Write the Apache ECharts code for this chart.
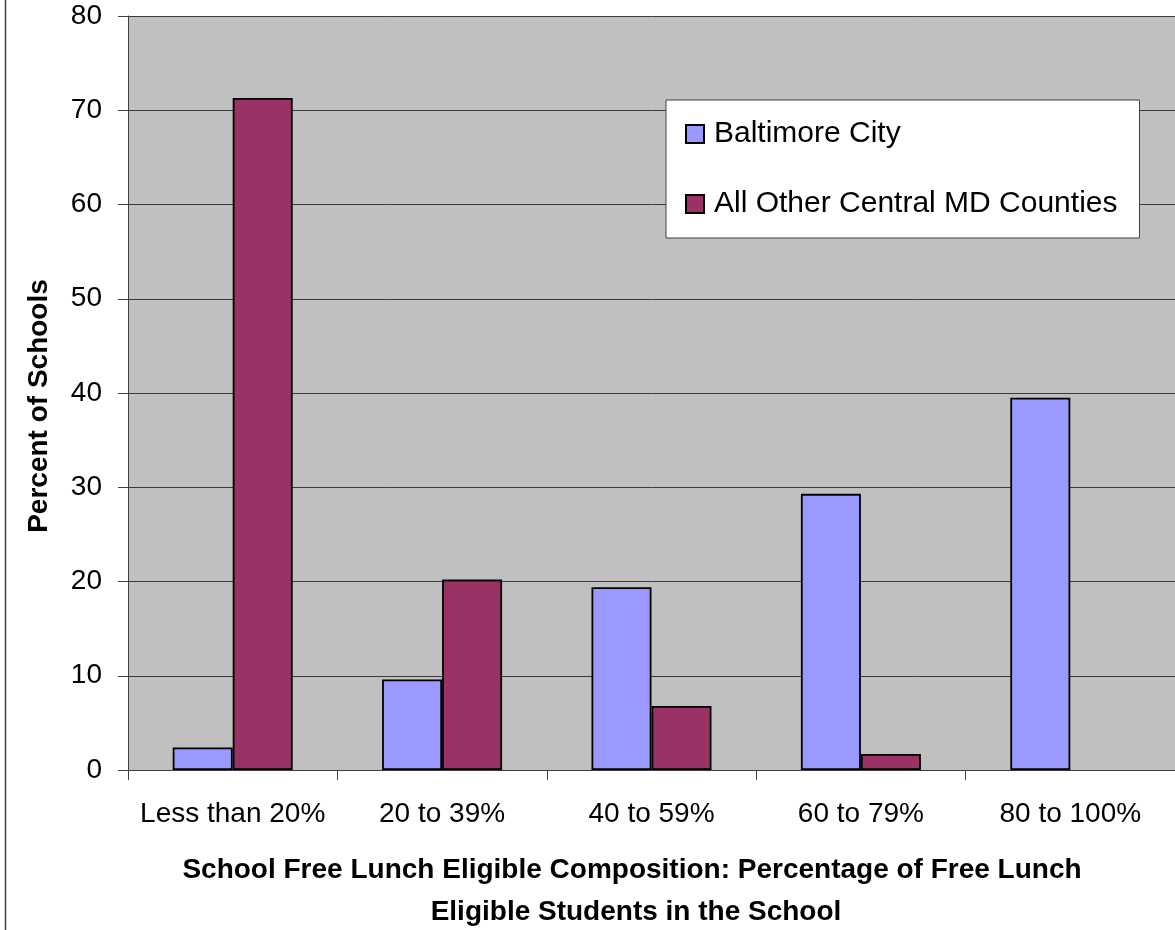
<!DOCTYPE html>
<html>
<head>
    <meta charset="UTF-8">
    <title>School Free Lunch Eligible Composition</title>
    <script src="https://cdn.jsdelivr.net/npm/echarts@6/dist/echarts.min.js"></script>
    <style>
        html, body { margin: 0; padding: 0; background: #fff; }
        #chart { width: 1175px; height: 930px; }
    </style>
</head>
<body>
    <div id="chart"></div>
    <script>
        const categories = ['Less than 20%', '20 to 39%', '40 to 59%', '60 to 79%', '80 to 100%'];
        const baltimoreCity = [2.4, 9.6, 19.4, 29.3, 39.5];
        const otherCounties = [71.3, 20.2, 6.8, 1.7, 0];
        const yTicks = [0, 10, 20, 30, 40, 50, 60, 70, 80];

        const font = 'Liberation Sans, Arial, sans-serif';
        const chart = echarts.init(document.getElementById('chart'));

        // zero-height bars get no outline, like the original
        const barData = values => values.map(v => v === 0 ? { value: v, itemStyle: { borderWidth: 0 } } : v);

        const option = {
            animation: false,
            backgroundColor: '#fff',
            textStyle: { fontFamily: font },
            grid: {
                left: 128,
                top: 16,
                width: 1050,
                bottom: 160,
                show: true,
                backgroundColor: '#c0c0c0',
                borderWidth: 0
            },
            legend: {
                orient: 'vertical',
                left: 666,
                top: 100,
                padding: [19, 22, 19, 19],
                itemGap: 40,
                itemWidth: 18,
                itemHeight: 18,
                icon: 'rect',
                backgroundColor: '#fff',
                borderColor: '#404040',
                borderWidth: 1,
                textStyle: { fontSize: 30, color: '#000', fontFamily: font, padding: [0, 0, 0, 5] },
                data: ['Baltimore City', 'All Other Central MD Counties']
            },
            xAxis: {
                type: 'category',
                data: categories,
                axisLine: { lineStyle: { color: '#404040', width: 1 } },
                axisTick: { show: true, length: 10, lineStyle: { color: '#404040' } },
                axisLabel: { interval: 0, fontSize: 28, color: '#000', margin: 30, fontFamily: font }
            },
            yAxis: {
                type: 'value',
                min: 0,
                max: 80,
                interval: 10,
                axisLine: { show: true, lineStyle: { color: '#404040', width: 1 } },
                axisTick: { show: true, length: 10, lineStyle: { color: '#404040' } },
                splitLine: { show: true, lineStyle: { color: '#3a3a3a', width: 1 } },
                axisLabel: {
                    fontSize: 28, color: '#000', margin: 26, fontFamily: font,
                    formatter: v => yTicks.includes(v) ? String(v) : ''
                }
            },
            series: [
                {
                    name: 'Baltimore City',
                    type: 'bar',
                    data: barData(baltimoreCity),
                    barWidth: 60,
                    barGap: '0%',
                    itemStyle: { color: '#9999ff', borderColor: '#000', borderWidth: 1.8 }
                },
                {
                    name: 'All Other Central MD Counties',
                    type: 'bar',
                    data: barData(otherCounties),
                    barWidth: 60,
                    barGap: '0%',
                    itemStyle: { color: '#993366', borderColor: '#000', borderWidth: 1.8 }
                }
            ],
            graphic: [
                {
                    type: 'line',
                    shape: { x1: 5.5, y1: 0, x2: 5.5, y2: 930 },
                    style: { stroke: '#404040', lineWidth: 1.5 }
                },
                {
                    type: 'text',
                    x: 39,
                    y: 406,
                    rotation: Math.PI / 2,
                    style: {
                        text: 'Percent of Schools',
                        font: 'bold 28px ' + font,
                        fill: '#000',
                        align: 'center',
                        verticalAlign: 'middle'
                    }
                },
                {
                    type: 'text',
                    x: 632,
                    y: 870,
                    style: {
                        text: 'School Free Lunch Eligible Composition: Percentage of Free Lunch',
                        font: 'bold 28px ' + font,
                        fill: '#000',
                        align: 'center',
                        verticalAlign: 'middle'
                    }
                },
                {
                    type: 'text',
                    x: 636,
                    y: 912,
                    style: {
                        text: 'Eligible Students in the School',
                        font: 'bold 28px ' + font,
                        fill: '#000',
                        align: 'center',
                        verticalAlign: 'middle'
                    }
                }
            ]
        };
        chart.setOption(option);
    </script>
</body>
</html>
